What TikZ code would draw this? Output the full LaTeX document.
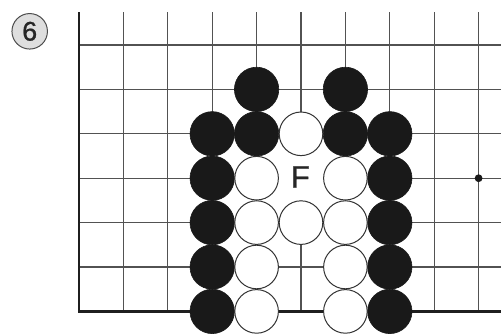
\documentclass[tikz,border=0pt]{standalone}
\usepackage{fontspec}
\setmainfont{Liberation Sans}
\newfontfamily\lblfont[FakeBold=0.8]{Liberation Sans}
\begin{document}
\begin{tikzpicture}[x=1pt,y=-1pt,
  gridline/.style={draw=black!68,line width=1.1pt},
  edgeline/.style={draw=black!88,line width=2.6pt},
  bstone/.style={circle,fill=black!90,draw=black!90,line width=0.6pt,minimum size=44.4pt,inner sep=0pt},
  wstone/.style={circle,fill=white,draw=black!80,line width=1pt,minimum size=43.6pt,inner sep=0pt},
  lbl/.style={circle,fill=white,minimum size=45pt,inner sep=0pt,font=\lblfont\fontsize{31}{31}\selectfont,text=black!85}]
\useasboundingbox (0,0) rectangle (501,333);
\begin{scope}
\clip (0,0) rectangle (501,333);
% vertical lines
\foreach \i in {1,...,9} {
  \draw[gridline] (79+44.4*\i,12) -- (79+44.4*\i,311.4);
}
% horizontal lines
\foreach \j in {0,...,5} {
  \draw[gridline] (79,45+44.4*\j) -- (501,45+44.4*\j);
}
% edges
\draw[edgeline] (79,12) -- (79,311.4) -- (501,311.4);
% star point
\fill[black!90] (478.6,178.2) circle (3.9);
% label background (covers the empty point under F)
\node[lbl] (F) at (301,178.2) {};
% stones
\foreach \c/\r in {4/1,6/1,3/2,4/2,6/2,7/2,3/3,7/3,3/4,7/4,3/5,7/5,3/6,7/6} {
  \node[bstone] (b\c\r) at (79+44.4*\c,45+44.4*\r) {};
}
\foreach \c/\r in {5/2,4/3,6/3,4/4,5/4,6/4,4/5,6/5,4/6,6/6} {
  \node[wstone] (w\c\r) at (79+44.4*\c,45+44.4*\r) {};
}
\end{scope}
\node[inner sep=0pt,font=\lblfont\fontsize{31}{31}\selectfont,text=black!85] (Ftext) at (300.3,177) {F};
% circled number
\node[circle,draw=black!70,fill=black!13,line width=1pt,minimum size=35.5pt,inner sep=0pt,
  font=\lblfont\fontsize{27}{27}\selectfont,text=black!85] (num) at (29.7,31.3) {6};
\end{tikzpicture}
\end{document}
